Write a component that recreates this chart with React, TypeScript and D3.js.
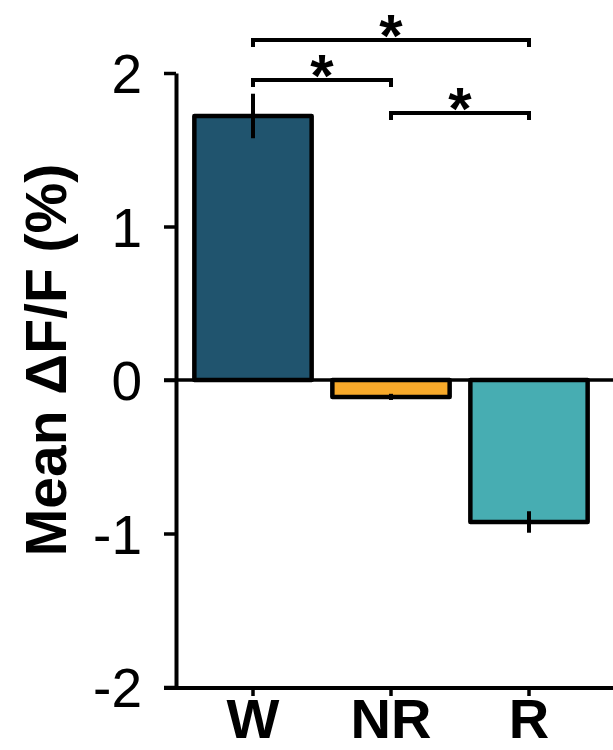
import React, { useEffect, useRef } from 'react';
import * as d3 from 'd3';

// data
const categories = ['W', 'NR', 'R'];
const means = [1.72, -0.11, -0.925];
const errors = [0.145, 0.02, 0.07];
const barColors = ['#20546E', '#F7A92A', '#47ADB2'];
const yTicks = [-2, -1, 0, 1, 2];
const yTickLabels = ['-2', '-1', '0', '1', '2'];

// significance brackets: [from, to, height in data units]
const bracketFrom = ['W', 'W', 'NR'];
const bracketTo = ['R', 'NR', 'R'];
const bracketLevel = [2.215, 1.955, 1.74];
const bracketLabel = ['*', '*', '*'];

const W = 613;
const H = 750;

const App = () => {
  const svgRef = useRef<SVGSVGElement>(null);

  useEffect(() => {
    const svg = d3.select(svgRef.current);
    svg.selectAll('*').remove();

    const font = '"Liberation Sans", Arial, sans-serif';
    const axisX = 176;

    const y = d3.scaleLinear().domain([-2, 2]).range([687, 73]);
    const x = d3.scaleBand<string>()
      .domain(categories)
      .range([184, 598])
      .paddingInner(0.15)
      .paddingOuter(0.075);

    // bars
    svg.append('g')
      .selectAll('rect')
      .data(categories)
      .join('rect')
      .attr('x', d => x(d)!)
      .attr('width', x.bandwidth())
      .attr('y', (d, i) => Math.min(y(means[i]), y(0)))
      .attr('height', (d, i) => Math.abs(y(means[i]) - y(0)))
      .attr('fill', (d, i) => barColors[i])
      .attr('stroke', '#000')
      .attr('stroke-width', 4.5)
      .attr('stroke-linejoin', 'round');

    // error bars (no caps)
    svg.append('g')
      .selectAll('line')
      .data(categories)
      .join('line')
      .attr('x1', d => x(d)! + x.bandwidth() / 2)
      .attr('x2', d => x(d)! + x.bandwidth() / 2)
      .attr('y1', (d, i) => y(means[i] + errors[i]))
      .attr('y2', (d, i) => y(means[i] - errors[i]))
      .attr('stroke', '#000')
      .attr('stroke-width', 4);

    // zero line
    svg.append('line')
      .attr('x1', axisX - 12).attr('x2', W)
      .attr('y1', y(0)).attr('y2', y(0))
      .attr('stroke', '#000').attr('stroke-width', 3.5);

    // y axis
    const yAxis = d3.axisLeft(y)
      .tickValues(yTicks)
      .tickFormat((d, i) => yTickLabels[i])
      .tickSize(12)
      .tickSizeOuter(0)
      .tickPadding(22);
    const gy = svg.append('g')
      .attr('transform', `translate(${axisX},0)`)
      .call(yAxis);
    gy.select('.domain').attr('stroke-width', 4);
    gy.selectAll('.tick line').attr('stroke-width', 3.5);
    gy.selectAll('.tick text')
      .attr('font-family', font)
      .attr('font-size', 55)
      .attr('fill', '#000')
      .attr('dy', '0.36em');

    // x axis
    const base = y(-2) + 1;
    svg.append('line')
      .attr('x1', axisX - 12).attr('x2', W)
      .attr('y1', base).attr('y2', base)
      .attr('stroke', '#000').attr('stroke-width', 4);
    const xAxis = d3.axisBottom(x).tickSize(8).tickSizeOuter(0);
    const gx = svg.append('g')
      .attr('transform', `translate(0,${base})`)
      .call(xAxis);
    gx.select('.domain').remove();
    gx.selectAll('.tick line').attr('stroke-width', 3.5);
    gx.selectAll('.tick text')
      .attr('font-family', font)
      .attr('font-size', 56)
      .attr('font-weight', 'bold')
      .attr('fill', '#000')
      .attr('y', 50)
      .attr('dy', 0);

    // y title
    svg.append('text')
      .attr('transform', `translate(66,${(160 + 560) / 2}) rotate(-90)`)
      .attr('text-anchor', 'middle')
      .attr('font-family', font)
      .attr('font-size', 57)
      .attr('font-weight', 'bold')
      .text('Mean ΔF/F (%)');

    // significance brackets
    const cx = (c: string) => x(c)! + x.bandwidth() / 2;
    const gb = svg.append('g');
    bracketLevel.forEach((lv, i) => {
      const x1 = cx(bracketFrom[i]);
      const x2 = cx(bracketTo[i]);
      const yy = y(lv);
      gb.append('path')
        .attr('d', `M${x1},${yy + 7}V${yy}H${x2}V${yy + 7}`)
        .attr('fill', 'none')
        .attr('stroke', '#000')
        .attr('stroke-width', 4);
      gb.append('text')
        .attr('x', (x1 + x2) / 2)
        .attr('y', yy + 16)
        .attr('text-anchor', 'middle')
        .attr('font-family', font)
        .attr('font-size', 60)
        .attr('font-weight', 'bold')
        .text(bracketLabel[i]);
    });
  }, []);

  return (
    <svg ref={svgRef} width={W} height={H}
      style={{ position: 'absolute', left: 0, top: 0, background: '#fff' }} />
  );
};

export default App;
